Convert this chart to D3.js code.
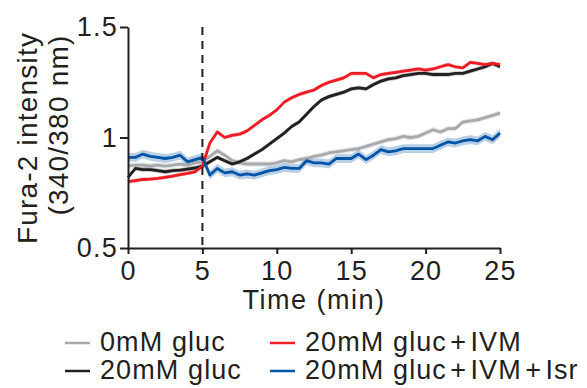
<!DOCTYPE html>
<html>
<head>
<meta charset="utf-8">
<script src="https://cdn.jsdelivr.net/npm/d3@7"></script>
<style>
  body { margin: 0; background: #fff; }
  svg text { font-family: "Liberation Sans", Arial, sans-serif; fill: #231f20; }
</style>
</head>
<body>
<div id="chart"></div>
<script>
// time points, every 0.5 min
var times = d3.range(0, 25.01, 0.5)

var gluc0 = [0.87, 0.875, 0.875, 0.87, 0.875, 0.87, 0.875, 0.88, 0.875, 0.885, 0.89,
    0.915, 0.94, 0.92, 0.895, 0.885, 0.88, 0.88, 0.88, 0.88, 0.885, 0.895, 0.89, 0.90,
    0.905, 0.915, 0.92, 0.93, 0.935, 0.94, 0.945, 0.95, 0.96, 0.97, 0.98, 0.99, 0.995,
    1.005, 1.0, 1.005, 1.02, 1.035, 1.025, 1.04, 1.04, 1.07, 1.075, 1.08, 1.09, 1.10, 1.11]

var gluc20 = [0.82, 0.86, 0.855, 0.855, 0.85, 0.845, 0.85, 0.852, 0.857, 0.862, 0.87,
    0.89, 0.91, 0.895, 0.88, 0.89, 0.905, 0.925, 0.945, 0.97, 0.995, 1.02, 1.05, 1.07,
    1.105, 1.14, 1.17, 1.185, 1.195, 1.205, 1.22, 1.225, 1.22, 1.24, 1.255, 1.265, 1.27,
    1.28, 1.285, 1.29, 1.29, 1.285, 1.285, 1.285, 1.29, 1.29, 1.30, 1.31, 1.32, 1.335, 1.32]

var gluc20Ivm = [0.80, 0.805, 0.81, 0.812, 0.815, 0.82, 0.825, 0.832, 0.838, 0.845, 0.87,
    0.975, 1.025, 1.0, 1.01, 1.015, 1.03, 1.055, 1.08, 1.10, 1.125, 1.16, 1.18, 1.195,
    1.205, 1.215, 1.235, 1.25, 1.26, 1.27, 1.29, 1.29, 1.29, 1.27, 1.285, 1.29, 1.295,
    1.30, 1.305, 1.31, 1.305, 1.31, 1.32, 1.33, 1.32, 1.315, 1.34, 1.335, 1.33, 1.335, 1.33]

var gluc20IvmIsr = [0.91, 0.91, 0.925, 0.915, 0.91, 0.905, 0.91, 0.92, 0.89, 0.90, 0.91,
    0.83, 0.86, 0.84, 0.845, 0.83, 0.835, 0.83, 0.84, 0.85, 0.855, 0.865, 0.86, 0.86,
    0.895, 0.885, 0.885, 0.88, 0.905, 0.905, 0.905, 0.925, 0.90, 0.92, 0.945, 0.935, 0.94,
    0.95, 0.95, 0.95, 0.95, 0.95, 0.965, 0.98, 0.975, 0.985, 0.99, 0.985, 1.005, 0.99, 1.02]

var seriesNames = ['0mM gluc', '20mM gluc', '20mM gluc\u200a+\u200aIVM', '20mM gluc\u200a+\u200aIVM\u200a+\u200aIsr']
var seriesValues = [gluc0, gluc20, gluc20Ivm, gluc20IvmIsr]
var seriesSem = [0.012, 0.01, 0.009, 0.02]
var colors = ['#a7a9ac', '#231f20', '#ed1c24', '#0054a6']

var xTicks = [0, 5, 10, 15, 20, 25]
var yTicks = [0.5, 1, 1.5]
var stimTime = 5

var margin = { top: 27, right: 87, bottom: 140, left: 128 }
var W = 587, H = 388
var width = W - margin.left - margin.right
var height = H - margin.top - margin.bottom

var svg = d3.select('#chart').append('svg')
    .attr('width', W)
    .attr('height', H)

var g = svg.append('g')
    .attr('transform', 'translate(' + margin.left + ',' + margin.top + ')')

var x = d3.scaleLinear().domain([0, 25]).range([0, width])
var y = d3.scaleLinear().domain([0.5, 1.5]).range([height, 0])

var series = seriesValues.map(function(vals, i) {
    return {
        name: seriesNames[i],
        color: colors[i],
        sem: seriesSem[i],
        points: vals.map(function(v, j) { return { t: times[j], v: v } })
    }
})

var area = d3.area()
    .x(function(d) { return x(d.t) })
    .y0(function(d) { return y(d.v - d.sem) })
    .y1(function(d) { return y(d.v + d.sem) })

var line = d3.line()
    .x(function(d) { return x(d.t) })
    .y(function(d) { return y(d.v) })

// bands first, then lines
series.forEach(function(s) {
    g.append('path')
        .datum(s.points.map(function(p) { return { t: p.t, v: p.v, sem: s.sem } }))
        .attr('fill', s.color)
        .attr('fill-opacity', 0.28)
        .attr('d', area)
})

series.forEach(function(s) {
    g.append('path')
        .datum(s.points)
        .attr('fill', 'none')
        .attr('stroke', s.color)
        .attr('stroke-width', 2.8)
        .attr('stroke-linejoin', 'round')
        .attr('d', line)
})

// stimulus marker
g.append('line')
    .attr('x1', x(stimTime)).attr('x2', x(stimTime))
    .attr('y1', y(1.5)).attr('y2', y(0.5))
    .attr('stroke', '#231f20')
    .attr('stroke-width', 2)
    .attr('stroke-dasharray', '8,6')

// axes
var xAxis = g.append('g')
    .attr('transform', 'translate(0,' + height + ')')
    .call(d3.axisBottom(x).tickValues(xTicks).tickSize(6).tickSizeOuter(0).tickPadding(8))

var yAxis = g.append('g')
    .call(d3.axisLeft(y).tickValues(yTicks).tickSize(8).tickSizeOuter(0).tickPadding(2)
        .tickFormat(d3.format('')))

;[xAxis, yAxis].forEach(function(ax) {
    ax.select('.domain').attr('stroke', '#231f20').attr('stroke-width', 2)
    ax.selectAll('.tick line').attr('stroke', '#231f20').attr('stroke-width', 2)
    ax.selectAll('.tick text')
        .attr('fill', '#231f20')
        .style('font-size', '27px')
        .style('letter-spacing', '1.2px')
        .style('font-family', '"Liberation Sans", Arial, sans-serif')
})
xAxis.selectAll('.tick text').attr('dy', '0.68em')

svg.append('text')
    .attr('x', margin.left + width / 2)
    .attr('y', 309)
    .attr('text-anchor', 'middle')
    .style('font-size', '27px')
    .style('letter-spacing', '1.5px')
    .text('Time (min)')

svg.append('text')
    .attr('transform', 'translate(37,138) rotate(-90)')
    .attr('text-anchor', 'middle')
    .style('font-size', '28px')
    .style('letter-spacing', '1.2px')
    .text('Fura-2 intensity')

svg.append('text')
    .attr('transform', 'translate(68,125) rotate(-90)')
    .attr('text-anchor', 'middle')
    .style('font-size', '28px')
    .style('letter-spacing', '1.2px')
    .text('(340/380 nm)')

// legend, 2 columns
var legendCols = [65, 270]
var legendRows = [351, 379]
series.forEach(function(s, i) {
    var col = i < 2 ? 0 : 1
    var row = i % 2
    var lg = svg.append('g')
        .attr('transform', 'translate(' + legendCols[col] + ',' + legendRows[row] + ')')
    lg.append('line')
        .attr('x1', 0).attr('x2', 25)
        .attr('y1', -8).attr('y2', -8)
        .attr('stroke', s.color)
        .attr('stroke-width', 2.5)
    lg.append('text')
        .attr('x', 35)
        .attr('y', 0)
        .style('font-size', '27px')
        .style('letter-spacing', '1.1px')
        .text(s.name)
})
</script>
</body>
</html>
